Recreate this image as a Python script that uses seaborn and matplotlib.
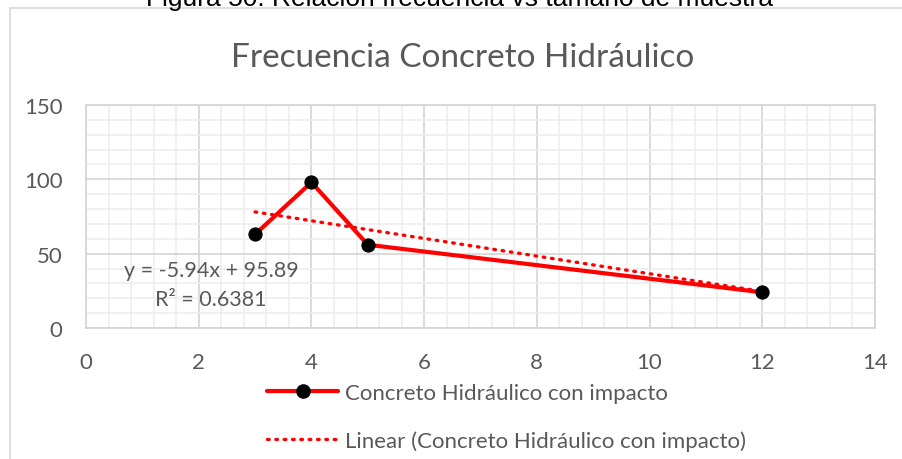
import matplotlib
matplotlib.use("Agg")
import matplotlib.pyplot as plt
from matplotlib.lines import Line2D
from matplotlib.ticker import MultipleLocator
import seaborn as sns
import pandas as pd

# Sample size vs. frequency, hydraulic concrete with impact
sample_size = [3, 4, 5, 12]
frequency = [63, 98, 56, 24]
series_label = "Concreto Hidráulico con impacto"
trend_label = "Linear (Concreto Hidráulico con impacto)"
chart_title = "Frecuencia Concreto Hidráulico"
caption = "Figura 50: Relación frecuencia vs tamaño de muestra"
equation_text = "y = -5.94x + 95.89"
r2_text = "R² = 0.6381"

df = pd.DataFrame({"x": sample_size, "y": frequency})

sns.set_theme(style="white")
plt.rcParams["font.family"] = ["Lato", "DejaVu Sans"]

TEXT = "#595959"
RED = "#ff0000"

W, H = 903, 460
fig = plt.figure(figsize=(W / 100, H / 100), dpi=100)
fig.patch.set_facecolor("white")

# chart frame (only top and left edges are inside the canvas)
fig.add_artist(Line2D([10 / W, 10 / W], [0, 1 - 9 / H], transform=fig.transFigure,
                      color="#d9d9d9", lw=1.2))
fig.add_artist(Line2D([10 / W, 1], [1 - 9 / H, 1 - 9 / H], transform=fig.transFigure,
                      color="#d9d9d9", lw=1.2))

# caption above the frame, partially cut off by the page edge
fig.text(460 / W, 1 - 6 / H, caption, ha="center", va="baseline",
         fontsize=19, color="black", family=["Liberation Sans"])

ax = fig.add_axes([86 / W, 1 - 329 / H, 789 / W, 223 / H])
ax.set_xlim(0, 14)
ax.set_ylim(0, 150)
ax.xaxis.set_major_locator(MultipleLocator(2))
ax.xaxis.set_minor_locator(MultipleLocator(0.4))
ax.yaxis.set_major_locator(MultipleLocator(50))
ax.yaxis.set_minor_locator(MultipleLocator(10))
ax.grid(which="minor", color="#ededed", lw=1.2)
ax.grid(which="major", color="#d4d4d4", lw=1.2)
ax.set_axisbelow(True)
for s in ax.spines.values():
    s.set_color("#d4d4d4")
    s.set_linewidth(1.2)
ax.tick_params(which="both", length=0, colors=TEXT, labelsize=16)
ax.tick_params(axis="x", pad=17)
ax.tick_params(axis="y", pad=17)

# linear trendline
sns.regplot(data=df, x="x", y="y", ax=ax, scatter=False, ci=None, truncate=True,
            line_kws=dict(color=RED, lw=2.4, linestyle=(0, (0.5, 2.0)),
                          dash_capstyle="round", zorder=2))

# data series
sns.lineplot(data=df, x="x", y="y", ax=ax, color=RED, lw=3.0, marker="o",
             markersize=9.5, markerfacecolor="black", markeredgecolor="black",
             zorder=3)
ax.set_xlabel("")
ax.set_ylabel("")

fig.text(211 / W, 1 - 271 / H, equation_text, ha="center", va="center",
         fontsize=15.5, color=TEXT)
fig.text(211 / W, 1 - 300 / H, r2_text, ha="center", va="center",
         fontsize=15.5, color=TEXT)

fig.text(463 / W, 1 - 58 / H, chart_title, ha="center", va="center",
         fontsize=24, color=TEXT)

handles = [
    Line2D([], [], color=RED, lw=3.0, marker="o", markersize=9.5,
           markerfacecolor="black", markeredgecolor="black"),
    Line2D([], [], color=RED, lw=2.4, linestyle=(0, (0.5, 2.0)),
           dash_capstyle="round"),
]
fig.legend(handles, [series_label, trend_label], loc="upper left",
           bbox_to_anchor=(247 / W, 1 - 364 / H), frameon=False, fontsize=16,
           labelcolor=TEXT, handlelength=3.2, handletextpad=0.3,
           labelspacing=1.22)

fig.savefig("out.png", dpi=100)
